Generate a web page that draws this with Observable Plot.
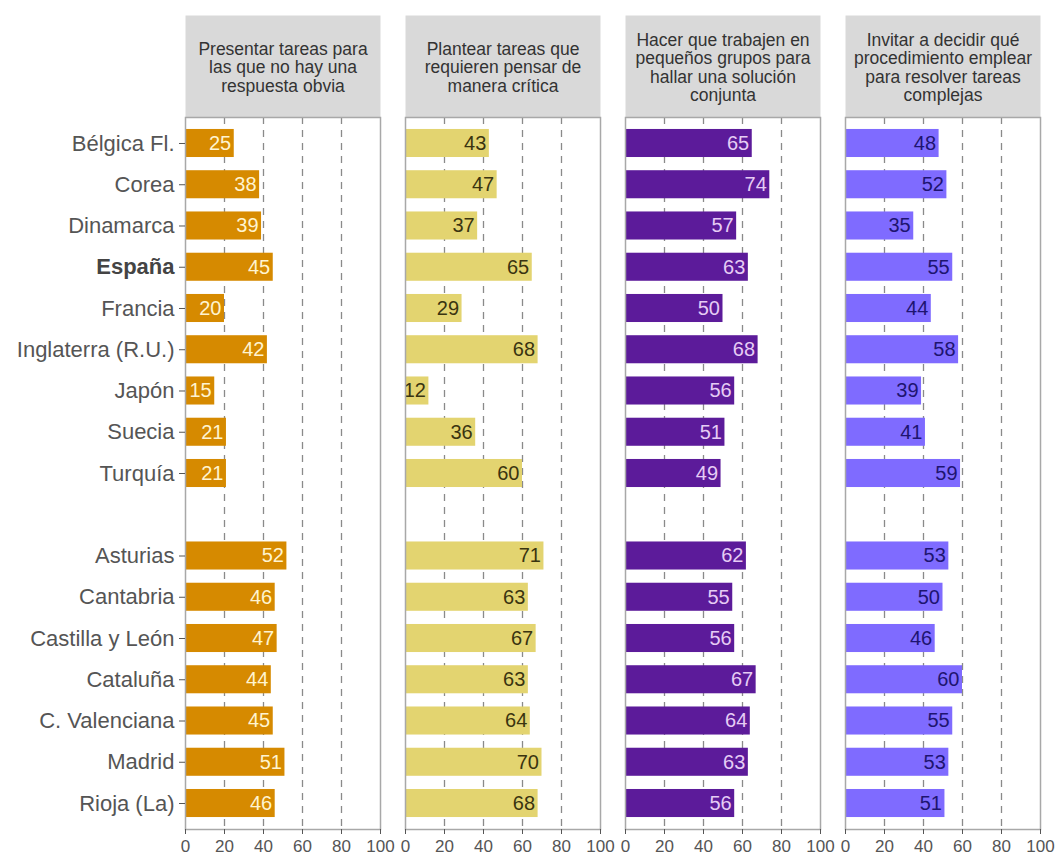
<!DOCTYPE html>
<html>
<head>
<meta charset="utf-8">
<script src="https://cdn.jsdelivr.net/npm/d3@7"></script>
<script src="https://cdn.jsdelivr.net/npm/@observablehq/plot@0.6"></script>
<style>
  html, body { margin: 0; padding: 0; background: #fff; }
</style>
</head>
<body>
<div id="chart"></div>
<script>
const questions = [
  "Presentar tareas para\nlas que no hay una\nrespuesta obvia",
  "Plantear tareas que\nrequieren pensar de\nmanera crítica",
  "Hacer que trabajen en\npequeños grupos para\nhallar una solución\nconjunta",
  "Invitar a decidir qué\nprocedimiento emplear\npara resolver tareas\ncomplejas"
];
const countries = ["Bélgica Fl.", "Corea", "Dinamarca", "España", "Francia", "Inglaterra (R.U.)", "Japón", "Suecia", "Turquía"];
const regions = ["Asturias", "Cantabria", "Castilla y León", "Cataluña", "C. Valenciana", "Madrid", "Rioja (La)"];
const categories = [...countries, ...regions];

const presentar = [25, 38, 39, 45, 20, 42, 15, 21, 21, 52, 46, 47, 44, 45, 51, 46];
const plantear  = [43, 47, 37, 65, 29, 68, 12, 36, 60, 71, 63, 67, 63, 64, 70, 68];
const grupos    = [65, 74, 57, 63, 50, 68, 56, 51, 49, 62, 55, 56, 67, 64, 63, 56];
const invitar   = [48, 52, 35, 55, 44, 58, 39, 41, 59, 53, 50, 46, 60, 55, 53, 51];
const seriesValues = [presentar, plantear, grupos, invitar];

const barColors = ["#D68A00", "#E3D470", "#5C1B9A", "#7F6BFF"];
const labelColors = ["#FFF4D0", "#3A3410", "#E6CCF5", "#1E1470"];
const xTicks = [0, 20, 40, 60, 80, 100];
const gridTicks = [20, 40, 60, 80];

const yDomain = [...countries, "", ...regions];

const data = [];
questions.forEach((q, i) => {
  categories.forEach((c, j) => {
    data.push({q, cat: c, value: seriesValues[i][j], fill: barColors[i], textColor: labelColors[i]});
  });
});

const H = 858, MT = 117, MB = 29;
const innerH = H - MT - MB;

const chart = Plot.plot({
  width: 1057,
  height: H,
  marginLeft: 185,
  marginRight: 17,
  marginTop: MT,
  marginBottom: MB,
  style: {fontFamily: "'Liberation Sans', Arial, sans-serif", background: "white", overflow: "visible"},
  fx: {domain: questions, paddingInner: 25 / 220, paddingOuter: 0, round: false, axis: null},
  x: {domain: [0, 100], axis: null},
  y: {domain: yDomain, paddingInner: 0.32, paddingOuter: 0.29, round: false, axis: null},
  color: {type: "identity"},
  marks: [
    Plot.frame({fill: "#D9D9D9", insetTop: -(MT - 15), insetBottom: innerH}),
    Plot.text(questions, {fx: d => d, text: d => d, frameAnchor: "top", dy: -(MT - 67), lineAnchor: "middle", fontSize: 17.5, lineHeight: 1.06, fill: "#333"}),
    Plot.ruleX(gridTicks, {stroke: "#8a8a8a", strokeWidth: 1.3, strokeDasharray: "7,6"}),
    Plot.barX(data, {fx: "q", y: "cat", x: "value", fill: "fill"}),
    Plot.text(data, {fx: "q", y: "cat", x: "value", text: d => String(d.value), textAnchor: "end", dx: -3, fill: "textColor", fontSize: 20}),
    Plot.frame({stroke: "#A8A8A8", strokeWidth: 1.5}),
    Plot.axisX({ticks: xTicks, tickSize: 5, tickPadding: 5, fontSize: 17, color: "#555", label: null}),
    Plot.axisY({ticks: categories, tickSize: 6, tickPadding: 5, fontSize: 22, color: "#555", label: null,
      tickFormat: d => d === "España" ? "" : d}),
    Plot.text(["España"], {fx: () => questions[0], y: d => d, text: d => d, frameAnchor: "left", textAnchor: "end", dx: -11, fontSize: 22, fontWeight: "bold", fill: "#444"})
  ]
});
document.getElementById("chart").appendChild(chart);
</script>
</body>
</html>
